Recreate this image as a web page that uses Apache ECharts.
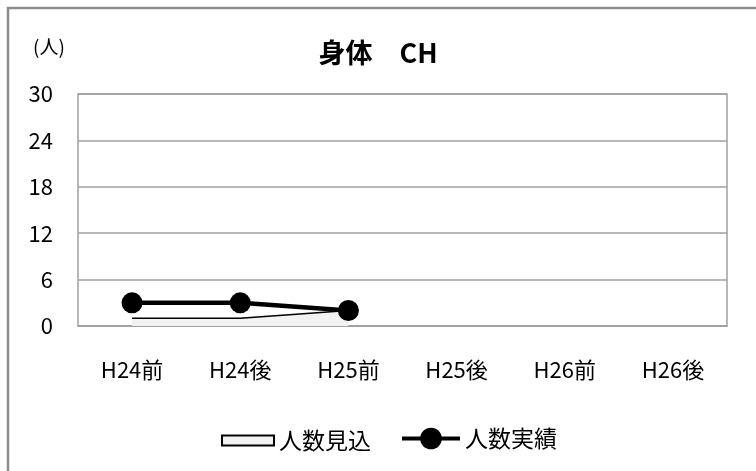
<!DOCTYPE html>
<html><head><meta charset="utf-8">
<script src="https://cdn.jsdelivr.net/npm/echarts@6/dist/echarts.min.js"></script>
<style>html,body{margin:0;padding:0;background:#fff}#c{width:756px;height:471px}</style>
</head><body><div id="c"></div>
<script>
const categories = ['H24前','H24後','H25前','H25後','H26前','H26後'];
const expected = [1, 1, 2, null, null, null];
const actual = [3, 3, 2, null, null, null];
const yTicks = {min: 0, max: 30, interval: 6};
const FONT = '"Noto Sans CJK JP", "Noto Sans", sans-serif';
const chart = echarts.init(document.getElementById('c'));
chart.setOption({
  animation: false,
  textStyle: {fontFamily: FONT, color: '#000'},
  graphic: [
    {type: 'rect', shape: {x: 8, y: 8, width: 760, height: 480}, style: {fill: 'none', stroke: '#8c8c8c', lineWidth: 2.5}, silent: true},
    {type: 'text', left: 33, top: 37, style: {text: '(人)', font: '19px ' + FONT, fill: '#000'}}
  ],
  title: {text: '身体　CH', left: 'center', top: 34, textStyle: {fontSize: 27, fontWeight: 'bold', color: '#000', fontFamily: FONT}},
  legend: [
    {data: [{name: '人数見込', icon: 'rect', itemStyle: {color: '#f2f2f2', borderColor: '#000', borderWidth: 2}}],
     left: 216, top: 424, itemWidth: 52, itemHeight: 10, itemGap: 10,
     textStyle: {fontSize: 23, color: '#000', fontFamily: FONT}},
    {data: [{name: '人数実績', lineStyle: {width: 4, color: '#000'}}], left: 395, top: 422, itemWidth: 58, itemHeight: 27,
     textStyle: {fontSize: 23, color: '#000', fontFamily: FONT}}
  ],
  grid: {left: 78, right: 29, top: 94, bottom: 145, show: true, borderColor: '#a0a0a0', borderWidth: 1.5},
  xAxis: {
    type: 'category', data: categories, boundaryGap: true,
    axisLine: {lineStyle: {color: '#a0a0a0', width: 1.5}},
    axisTick: {show: false},
    axisLabel: {fontSize: 22, color: '#000', margin: 33, fontFamily: FONT}
  },
  yAxis: {
    type: 'value', min: yTicks.min, max: yTicks.max, interval: yTicks.interval,
    axisLine: {show: false}, axisTick: {show: false},
    axisLabel: {fontSize: 22, color: '#000', margin: 25, fontFamily: FONT},
    splitLine: {lineStyle: {color: '#a0a0a0', width: 1.5}}
  },
  series: [
    {name: '人数見込', type: 'line', data: expected, symbol: 'none',
     lineStyle: {color: '#000', width: 1.5}, itemStyle: {color: '#f2f2f2', borderColor: '#000'},
     areaStyle: {color: '#f2f2f2', opacity: 1}},
    {name: '人数実績', type: 'line', data: actual, symbol: 'circle', symbolSize: 21,
     lineStyle: {color: '#000', width: 4.5}, itemStyle: {color: '#000'}}
  ]
});
</script></body></html>
